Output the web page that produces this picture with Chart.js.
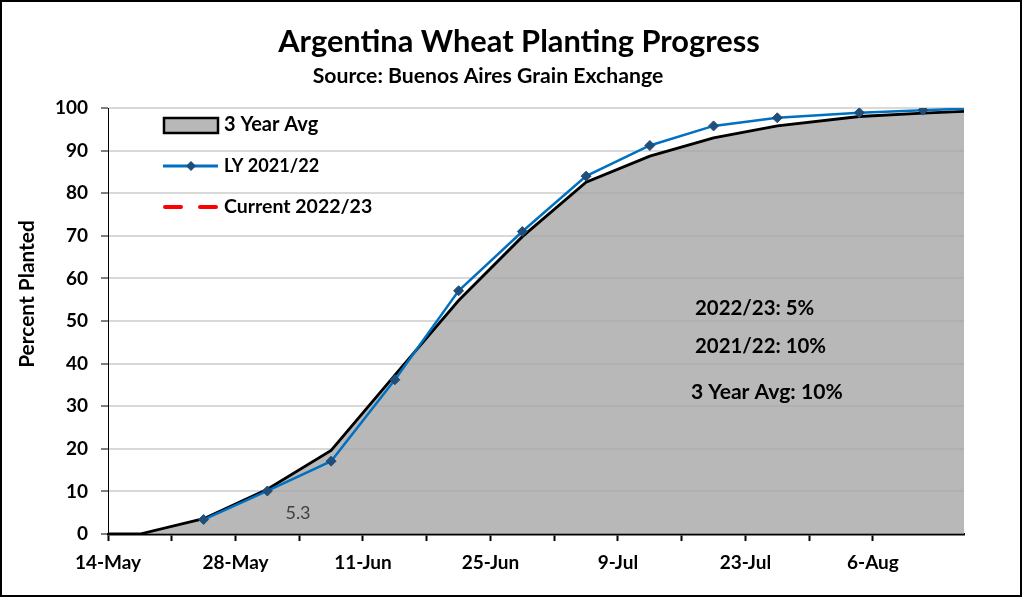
<!DOCTYPE html>
<html>
<head>
<meta charset="utf-8">
<script src="https://cdn.jsdelivr.net/npm/chart.js@4.4.1/dist/chart.umd.min.js"></script>
<style>
    html, body { margin: 0; padding: 0; background: #fff; }
    #wrap { width: 1022px; height: 597px; border: 2px solid #000; box-sizing: border-box; }
    canvas { display: block; }
</style>
</head>
<body>
<div id="wrap"><canvas id="plantingChart" width="1018" height="593"></canvas></div>
<script>
// x values are days after 14-May
const tickLabels = ['14-May', '28-May', '11-Jun', '25-Jun', '9-Jul', '23-Jul', '6-Aug'];

const avgDays   = [0, 3.5, 10.5, 17.5, 24.5, 31.5, 38.5, 45.5, 52.5, 59.5, 66.5, 73.5, 82.5, 89.5, 96.5];
const avgValues = [0, 0, 3.6, 10.5, 19.6, 37.3, 54.8, 69.8, 82.6, 88.7, 93.0, 95.8, 98.0, 98.8, 99.4];

const lyDays   = [10.5, 17.5, 24.5, 31.5, 38.5, 45.5, 52.5, 59.5, 66.5, 73.5, 82.5, 89.5, 96.5];
const lyValues = [3.4, 10.1, 17.1, 36.2, 57.1, 71.0, 84.0, 91.2, 95.8, 97.7, 98.9, 99.5, 100];

const currentDays   = [];
const currentValues = [];

const FONT = 'Lato, "Open Sans", sans-serif';
const AVG_FILL = 'rgba(165,165,165,0.79)';
const LY_COLOR = '#0070c0';
const MARKER_COLOR = '#1f4e79';

function toPoints(xs, ys) {
    return xs.map((x, i) => ({ x: x, y: ys[i] }));
}

// draws text scaled so it spans the given width
function fitText(ctx, text, x, y, width, weight, size, align) {
    ctx.font = weight + ' ' + size + 'px ' + FONT;
    const w = ctx.measureText(text).width;
    const s = size * width / w;
    ctx.font = weight + ' ' + s.toFixed(1) + 'px ' + FONT;
    ctx.textAlign = align;
    ctx.fillText(text, x, y);
}

const overlay = {
    id: 'overlay',
    afterDraw(chart) {
        const ctx = chart.ctx;
        ctx.save();
        ctx.fillStyle = '#000';
        ctx.textBaseline = 'alphabetic';
        fitText(ctx, 'Argentina Wheat Planting Progress', 517, 50, 482, 'bold', 28, 'center');
        fitText(ctx, 'Source: Buenos Aires Grain Exchange', 486, 81, 350, 'bold', 18, 'center');

        ctx.textBaseline = 'middle';
        fitText(ctx, '2022/23: 5%', 693, 306, 119, 'bold', 19, 'left');
        fitText(ctx, '2021/22: 10%', 693, 344, 131, 'bold', 19, 'left');
        fitText(ctx, '3 Year Avg: 10%', 689, 390, 152, 'bold', 19, 'left');

        ctx.fillStyle = '#404040';
        ctx.font = '18px ' + FONT;
        ctx.textAlign = 'center';
        ctx.fillText('5.3', 296, 511);

        // y axis title
        ctx.save();
        ctx.translate(25, 292);
        ctx.rotate(-Math.PI / 2);
        ctx.fillStyle = '#000';
        fitText(ctx, 'Percent Planted', 0, 0, 148, 'bold', 18, 'center');
        ctx.restore();

        // legend
        ctx.fillStyle = AVG_FILL;
        ctx.fillRect(162, 116, 54, 15);
        ctx.strokeStyle = '#000';
        ctx.lineWidth = 2.5;
        ctx.strokeRect(162, 116, 54, 15);

        ctx.strokeStyle = LY_COLOR;
        ctx.lineWidth = 3;
        ctx.beginPath();
        ctx.moveTo(161, 164);
        ctx.lineTo(216, 164);
        ctx.stroke();
        ctx.fillStyle = MARKER_COLOR;
        ctx.beginPath();
        ctx.moveTo(189, 159);
        ctx.lineTo(194, 164);
        ctx.lineTo(189, 169);
        ctx.lineTo(184, 164);
        ctx.closePath();
        ctx.fill();

        ctx.strokeStyle = '#ff0000';
        ctx.lineWidth = 4;
        ctx.lineCap = 'round';
        ctx.beginPath();
        ctx.moveTo(163, 205);
        ctx.lineTo(179, 205);
        ctx.moveTo(198, 205);
        ctx.lineTo(214, 205);
        ctx.stroke();

        ctx.fillStyle = '#000';
        fitText(ctx, '3 Year Avg', 222, 123, 94, 'bold', 18, 'left');
        fitText(ctx, 'LY 2021/22', 222, 164, 95, 'bold', 18, 'left');
        fitText(ctx, 'Current 2022/23', 222, 205, 148, 'bold', 18, 'left');
        ctx.restore();
    }
};

const ctx = document.getElementById('plantingChart').getContext('2d');
new Chart(ctx, {
    type: 'line',
    data: {
        datasets: [
            {
                label: 'LY 2021/22',
                data: toPoints(lyDays, lyValues),
                borderColor: LY_COLOR,
                borderWidth: 2.5,
                pointStyle: 'rectRot',
                pointRadius: 5,
                pointBackgroundColor: MARKER_COLOR,
                pointBorderColor: MARKER_COLOR,
                pointBorderWidth: 1,
                fill: false,
                tension: 0,
                order: 0
            },
            {
                label: 'Current 2022/23',
                data: toPoints(currentDays, currentValues),
                borderColor: '#ff0000',
                borderWidth: 3,
                borderDash: [10, 8],
                pointRadius: 0,
                fill: false,
                order: 1
            },
            {
                label: '3 Year Avg',
                data: toPoints(avgDays, avgValues),
                borderColor: '#000',
                borderWidth: 2.8,
                backgroundColor: AVG_FILL,
                pointRadius: 0,
                fill: 'origin',
                tension: 0,
                order: 2
            }
        ]
    },
    options: {
        responsive: false,
        animation: false,
        events: [],
        layout: { padding: { top: 106, right: 56, left: 0, bottom: 0 } },
        plugins: {
            legend: { display: false },
            title: { display: false },
            tooltip: { enabled: false }
        },
        scales: {
            x: {
                type: 'linear',
                min: 0,
                max: 94,
                afterBuildTicks: scale => {
                    scale.ticks = scale.ticks.filter(t => t.value % 7 === 0);
                },
                afterFit: scale => { scale.height = 61; },
                ticks: {
                    stepSize: 7,
                    autoSkip: false,
                    maxRotation: 0,
                    padding: 10,
                    color: '#000',
                    font: { family: FONT, size: 19, weight: 'bold' },
                    callback: value => {
                        const week = Math.round(value / 7);
                        return week % 2 === 0 ? (tickLabels[week / 2] || '') : '';
                    }
                },
                grid: {
                    drawOnChartArea: false,
                    drawTicks: true,
                    tickLength: 7,
                    tickColor: '#000',
                    tickWidth: 2
                },
                border: { color: '#000', width: 2.5 }
            },
            y: {
                min: 0,
                max: 100,
                afterFit: scale => { scale.width = 106; },
                ticks: {
                    stepSize: 10,
                    padding: 13,
                    color: '#000',
                    font: { family: FONT, size: 19, weight: 'bold' }
                },
                grid: {
                    color: '#d9d9d9',
                    lineWidth: 2,
                    tickLength: 7,
                    tickColor: '#000',
                    tickWidth: 1
                },
                border: { color: '#000', width: 1 }
            }
        }
    },
    plugins: [overlay]
});
</script>
</body>
</html>
